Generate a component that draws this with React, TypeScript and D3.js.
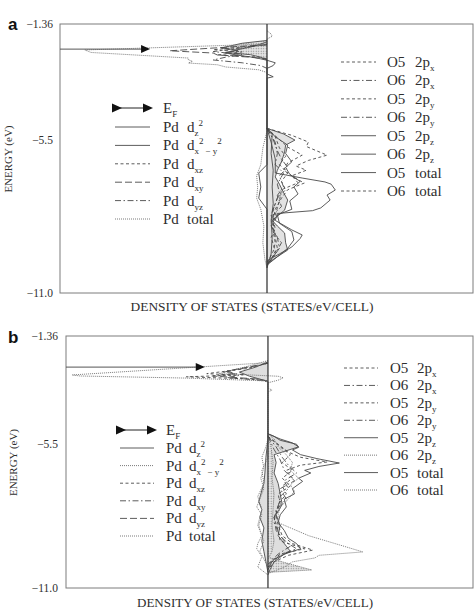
import React, { useEffect, useRef } from 'react';
import * as d3 from 'd3';

type Pt = [number, number]; // [energy (eV), DOS]

const yTicks = [-1.36, -5.5, -11.0];
const yTickLabels = ['\u22121.36', '\u22125.5', '\u221211.0'];
const xTitle = 'DENSITY OF STATES (STATES/eV/CELL)';
const yTitle = 'ENERGY (eV)';

const pdLabels = ['d_{z}^{2}', 'd_{x}^{2}_{\u2009\u2212 y}^{2}', 'd_{xz}', 'd_{xy}', 'd_{yz}', 'total'];
const oAtoms = ['O5', 'O6', 'O5', 'O6', 'O5', 'O6', 'O5', 'O6'];
const oOrbitals = ['2p_{x}', '2p_{x}', '2p_{y}', '2p_{y}', '2p_{z}', '2p_{z}', 'total', 'total'];

// Fermi level and arrow tip (DOS units) per panel
const fermiA = -2.26;
const fermiTipA = -5.65;
const fermiB = -2.55;
const fermiTipB = -3.1;

// ---------- panel a : Pd ----------
const aPdDz2: Pt[] = [[-1.95, 0], [-2.05, -1.2], [-2.15, -1.8], [-2.22, -2.2], [-2.3, -1.4], [-2.38, -2.0], [-2.46, -0.8], [-2.55, -0.3], [-2.65, 0], [-5.1, 0], [-5.3, 0.25], [-6.0, 0.2], [-6.6, 0.3], [-7.2, 0.25], [-7.8, 0.3], [-8.4, 0.2], [-9.0, 0.25], [-9.6, 0.2], [-10.1, 0]];
const aPdDx2y2: Pt[] = [[-2.0, 0], [-2.15, -0.6], [-2.28, -1.4], [-2.4, -2.0], [-2.48, -1.4], [-2.56, -0.6], [-2.66, 0], [-2.75, 0.4], [-2.85, 0.3], [-2.95, 0], [-3.15, 0], [-3.25, 0.3], [-3.3, 0], [-6.4, 0], [-6.7, -0.4], [-7.2, -0.3], [-7.6, -0.4], [-8.0, 0], [-10.1, 0]];
const aPdDxz: Pt[] = [[-2.1, 0], [-2.28, -2.6], [-2.36, -1.2], [-2.47, -2.4], [-2.54, -0.5], [-2.6, 0]];
const aPdDxy: Pt[] = [[-2.1, 0], [-2.32, -4.7], [-2.4, -2.6], [-2.47, -2.4], [-2.55, -0.8], [-2.62, 0]];
const aPdDyz: Pt[] = [[-2.1, 0], [-2.25, -1.6], [-2.35, -2.6], [-2.45, -1.2], [-2.55, -2.0], [-2.65, -2.6], [-2.75, -1.2], [-2.85, -0.3], [-2.95, 0]];
const aPdTotal: Pt[] = [[-1.6, 0], [-1.72, 0.2], [-1.8, 0.25], [-1.9, 0], [-2.08, 0], [-2.29, -8.8], [-2.38, -8.5], [-2.58, -3.8], [-2.64, -3.8], [-2.7, -3.6], [-2.76, -3.8], [-2.82, -2.4], [-2.9, -2.0], [-3.0, -0.4], [-3.1, 0], [-5.2, 0], [-5.8, -0.2], [-6.4, -0.3], [-6.8, -0.5], [-7.2, -0.45], [-7.6, -0.5], [-8.0, -0.3], [-8.6, -0.15], [-9.2, -0.2], [-9.8, -0.1], [-10.1, 0]];

// ---------- panel a : O ----------
const aO5Px: Pt[] = [[-5.1, 0], [-5.5, 0.6], [-5.77, 1.0], [-6.06, 1.7], [-6.34, 1.0], [-6.6, 0.8], [-6.9, 1.4], [-7.06, 1.8], [-7.3, 1.0], [-7.6, 0.7], [-8.0, 0.4], [-8.4, 0.3], [-8.8, 0.3], [-9.2, 0.4], [-9.5, 0.3], [-9.8, 0.1], [-10.0, 0]];
const aO6Px: Pt[] = [[-5.1, 0], [-5.5, 0.3], [-5.9, 0.5], [-6.2, 0.7], [-6.5, 1.0], [-6.8, 0.6], [-7.2, 0.8], [-7.5, 0.5], [-7.9, 0.7], [-8.2, 0.3], [-8.6, 0.2], [-9.0, 0.5], [-9.4, 0.6], [-9.7, 0.3], [-10.0, 0]];
const aO5Py: Pt[] = [[-5.1, 0], [-5.4, 0.4], [-5.8, 0.6], [-6.1, 0.9], [-6.4, 0.6], [-6.7, 1.0], [-7.0, 0.7], [-7.3, 0.9], [-7.6, 0.5], [-8.0, 0.3], [-8.4, 0.3], [-8.7, 0.4], [-9.0, 0.2], [-9.5, 0.4], [-9.8, 0.2], [-10.0, 0]];
const aO6Py: Pt[] = [[-5.1, 0], [-5.6, 0.4], [-6.0, 0.5], [-6.4, 0.4], [-6.7, 0.8], [-7.1, 0.5], [-7.4, 0.6], [-7.8, 0.4], [-8.2, 0.2], [-8.8, 0.3], [-9.2, 0.7], [-9.6, 0.4], [-10.0, 0]];
const aO5Pz: Pt[] = [[-5.1, 0], [-5.4, 0.4], [-5.7, 1.0], [-6.0, 0.9], [-6.3, 1.2], [-6.5, 0.9], [-6.75, 1.1], [-7.0, 1.6], [-7.2, 1.3], [-7.45, 1.5], [-7.7, 1.1], [-8.0, 1.2], [-8.2, 0.5], [-8.5, 0.6], [-8.8, 1.2], [-9.1, 1.3], [-9.4, 1.0], [-9.7, 0.5], [-10.0, 0]];
const aO6Pz: Pt[] = [[-5.1, 0], [-5.3, 0.8], [-5.52, 1.35], [-5.7, 0.9], [-5.95, 0.85], [-6.3, 0.7], [-6.6, 0.5], [-6.84, 0.4], [-7.1, 0.6], [-7.4, 0.8], [-7.67, 1.0], [-8.03, 0.85], [-8.25, 0.5], [-8.4, 0.25], [-8.6, 0.5], [-8.85, 0.85], [-9.2, 0.9], [-9.46, 1.0], [-9.7, 0.5], [-9.95, 0]];
const aO5Total: Pt[] = [[-5.1, 0], [-5.6, 0.2], [-6.2, 0.4], [-6.7, 0.4], [-6.88, 1.7], [-7.02, 2.8], [-7.1, 3.1], [-7.31, 3.3], [-7.49, 2.9], [-7.67, 3.05], [-7.95, 2.6], [-8.05, 2.2], [-8.15, 0.5], [-8.4, 0.4], [-8.74, 1.2], [-8.92, 1.7], [-9.05, 1.6], [-9.35, 1.2], [-9.6, 0.6], [-9.82, 0.05], [-9.9, 0]];
const aO6Total: Pt[] = [[-5.1, 0], [-5.35, 1.2], [-5.59, 2.0], [-5.75, 1.9], [-6.06, 2.9], [-6.25, 2.0], [-6.45, 1.4], [-6.6, 1.9], [-6.8, 1.2], [-7.05, 1.5], [-7.3, 0.7], [-7.7, 0.6], [-8.2, 0.4], [-8.6, 0.3], [-9.0, 0.4], [-9.4, 0.5], [-9.8, 0.2], [-10.0, 0]];

// ---------- panel b : Pd ----------
const bPdDz2: Pt[] = [[-2.35, 0], [-2.55, -0.6], [-2.74, -1.4], [-2.9, -0.9], [-3.05, -0.2], [-3.1, 0], [-5.3, 0], [-6.0, -0.1], [-6.6, -0.15], [-7.0, -0.2], [-7.4, -0.35], [-7.7, -0.45], [-8.0, -0.3], [-8.3, -0.4], [-8.7, -0.2], [-9.2, -0.3], [-9.6, -0.2], [-10.0, -0.1], [-10.4, 0]];
const bPdDx2y2: Pt[] = [[-2.3, 0], [-2.5, -0.9], [-2.7, -1.9], [-2.8, -2.4], [-2.86, -0.6], [-2.9, 0.5], [-2.96, 0.75], [-3.05, 0.5], [-3.15, 0], [-6.0, 0], [-6.5, -0.3], [-7.0, -0.2], [-7.5, -0.5], [-8.0, -0.3], [-8.6, -0.5], [-9.2, -0.2], [-9.6, -0.4], [-10.2, 0]];
const bPdDxz: Pt[] = [[-2.4, 0], [-2.6, -1.0], [-2.8, -3.0], [-2.86, -1.5], [-2.92, -4.0], [-3.0, -1.0], [-3.08, 0]];
const bPdDxy: Pt[] = [[-2.4, 0], [-2.6, -1.2], [-2.74, -2.2], [-2.84, -1.2], [-2.95, -2.0], [-3.05, -0.4], [-3.12, 0]];
const bPdDyz: Pt[] = [[-2.4, 0], [-2.55, -1.0], [-2.7, -2.0], [-2.8, -1.6], [-2.89, -2.7], [-3.0, -0.6], [-3.08, 0]];
const bPdTotal: Pt[] = [[-2.3, 0], [-2.39, -0.2], [-2.85, -9.6], [-2.89, -9.2], [-2.97, -4.0], [-3.08, 0], [-3.35, 0], [-3.43, 0.2], [-3.5, 0], [-5.3, 0], [-5.6, -0.1], [-6.0, -0.3], [-6.4, -0.2], [-6.8, -0.35], [-7.2, -0.2], [-7.6, -0.4], [-7.9, -0.55], [-8.2, -0.3], [-8.6, -0.45], [-9.0, -0.3], [-9.3, -0.5], [-9.5, -0.55], [-9.8, -0.3], [-10.2, -0.5], [-10.5, 0]];

// ---------- panel b : O ----------
const bO5Px: Pt[] = [[-5.2, 0], [-5.5, 0.5], [-5.8, 1.0], [-6.0, 1.6], [-6.18, 2.9], [-6.3, 1.6], [-6.5, 0.9], [-6.8, 1.2], [-7.1, 0.7], [-7.4, 0.9], [-7.8, 0.5], [-8.2, 0.4], [-8.6, 0.5], [-9.0, 0.7], [-9.3, 1.2], [-9.55, 2.2], [-9.75, 1.0], [-10.0, 0.3], [-10.3, 0]];
const bO6Px: Pt[] = [[-5.2, 0], [-5.6, 0.4], [-6.0, 0.7], [-6.3, 1.0], [-6.6, 1.4], [-6.9, 0.8], [-7.2, 1.0], [-7.5, 0.6], [-7.9, 0.5], [-8.3, 0.3], [-8.8, 0.4], [-9.2, 0.8], [-9.5, 1.4], [-9.7, 0.7], [-10.0, 0.2], [-10.3, 0]];
const bO5Py: Pt[] = [[-5.2, 0], [-5.6, 0.6], [-5.9, 1.1], [-6.2, 0.7], [-6.5, 1.2], [-6.8, 0.7], [-7.1, 1.1], [-7.4, 0.5], [-7.8, 0.6], [-8.3, 0.3], [-8.8, 0.5], [-9.2, 0.6], [-9.5, 1.8], [-9.7, 0.6], [-10.1, 0]];
const bO6Py: Pt[] = [[-5.2, 0], [-5.7, 0.3], [-6.1, 0.6], [-6.5, 0.8], [-6.9, 1.3], [-7.2, 0.6], [-7.6, 0.9], [-8.0, 0.4], [-8.5, 0.3], [-9.0, 0.6], [-9.4, 1.1], [-9.7, 0.5], [-10.1, 0]];
const bO5Pz: Pt[] = [[-5.1, 0], [-5.3, 0.6], [-5.45, 1.2], [-5.6, 1.5], [-5.75, 0.9], [-5.9, 0.3], [-6.2, 0.4], [-6.6, 0.3], [-7.0, 0.5], [-7.4, 0.6], [-7.8, 0.7], [-8.2, 0.4], [-8.6, 0.6], [-9.0, 0.5], [-9.4, 0.9], [-9.6, 1.1], [-9.9, 0.3], [-10.2, 0]];
const bO6Pz: Pt[] = [[-5.2, 0], [-5.6, 0.15], [-6.2, 0.25], [-6.8, 0.2], [-7.4, 0.3], [-8.0, 0.25], [-8.6, 0.2], [-9.2, 0.3], [-9.6, 0.2], [-9.83, 0.05], [-10.0, 0.7], [-10.15, 1.4], [-10.31, 2.15], [-10.36, 1.0], [-10.4, 0]];
const bO5Total: Pt[] = [[-5.1, 0], [-5.2, 0.3], [-5.35, 0.6], [-5.5, 1.4], [-5.62, 1.5], [-5.72, 1.2], [-5.9, 1.6], [-6.05, 2.4], [-6.22, 3.5], [-6.35, 2.5], [-6.5, 1.8], [-6.6, 2.1], [-6.8, 1.5], [-6.92, 1.7], [-7.2, 1.2], [-7.4, 1.3], [-7.6, 0.8], [-7.9, 0.9], [-8.2, 0.6], [-8.5, 0.5], [-8.8, 0.8], [-9.1, 1.0], [-9.3, 1.4], [-9.5, 1.6], [-9.7, 0.8], [-10.0, 0.3], [-10.3, 0.1], [-10.5, 0]];
const bO6Total: Pt[] = [[-5.1, 0], [-5.3, 0.3], [-5.6, 0.5], [-5.9, 0.9], [-6.2, 1.2], [-6.5, 1.1], [-6.8, 1.5], [-7.05, 1.1], [-7.3, 1.3], [-7.6, 1.0], [-7.9, 0.6], [-8.2, 0.5], [-8.5, 0.5], [-8.8, 1.4], [-9.0, 2.0], [-9.35, 3.5], [-9.62, 4.65], [-9.75, 2.5], [-9.85, 2.3], [-10.0, 1.2], [-10.2, 0.8], [-10.45, 0]];

const dashes: Record<string, string | null> = {
  solid: null,
  short: '3,2.5',
  long: '7,3',
  dashdot: '6,2.5,1.5,2.5',
  dot: '1,1',
};

const panels = [
  {
    tag: 'a', top: 24, bottom: 293, left: 60, right: 473, xDom: [-10, 10],
    fermi: fermiA, fermiTip: fermiTipA, tickX: 53, yTitleX: 12, xTitleY: 311, xTitleLen: 243,
    pd: [aPdDz2, aPdDx2y2, aPdDxz, aPdDxy, aPdDyz, aPdTotal],
    o: [aO5Px, aO6Px, aO5Py, aO6Py, aO5Pz, aO6Pz, aO5Total, aO6Total],
    pdStyle: ['solid', 'solid', 'short', 'long', 'dashdot', 'dot'],
    oStyle: ['short', 'dashdot', 'short', 'dashdot', 'solid', 'solid', 'solid', 'short'],
    fills: [{ d: aPdDz2, f: 'url(#stip)' }, { d: aO6Pz, f: '#e2e2e2' }],
    legL: { efY: 108, y0: 127, dy: 18.4, x0: 115, x1: 150, ax0: 112, ax1: 153, t1: 163, t2: 187 },
    legR: { y0: 62, dy: 18.43, x0: 341, x1: 376, t1: 387, t2: 415 },
  },
  {
    tag: 'b', top: 336, bottom: 588, left: 66, right: 473, xDom: [-9.9, 10.1],
    fermi: fermiB, fermiTip: fermiTipB, tickX: 58, yTitleX: 17, xTitleY: 607, xTitleLen: 236,
    pd: [bPdDz2, bPdDx2y2, bPdDxz, bPdDxy, bPdDyz, bPdTotal],
    o: [bO5Px, bO6Px, bO5Py, bO6Py, bO5Pz, bO6Pz, bO5Total, bO6Total],
    pdStyle: ['solid', 'dot', 'short', 'dashdot', 'long', 'dot'],
    oStyle: ['short', 'dashdot', 'short', 'dashdot', 'solid', 'dot', 'solid', 'dot'],
    fills: [{ d: bPdDz2, f: '#dedede' }, { d: bO5Pz, f: '#dedede' }, { d: bO6Pz, f: 'url(#stip)' }],
    legL: { efY: 430, y0: 448, dy: 17.6, x0: 120, x1: 154, ax0: 116, ax1: 157, t1: 166, t2: 189 },
    legR: { y0: 368, dy: 17.43, x0: 344, x1: 378, t1: 390, t2: 417 },
  },
];

const SERIF = '"Liberation Serif", "Times New Roman", serif';
const INK = '#2e2e2e';

function rich(sel: any, str: string, fs: number) {
  const re = /([_^])\{([^}]*)\}|([^_^]+)/g;
  let cur = 0;
  let m: RegExpExecArray | null;
  while ((m = re.exec(str))) {
    if (m[3]) {
      sel.append('tspan').attr('dy', -cur).attr('font-size', fs).text(m[3]);
      cur = 0;
    } else {
      const off = m[1] === '_' ? 4 : -6;
      sel.append('tspan').attr('dy', off - cur).attr('font-size', fs * 0.6).text(m[2]);
      cur = off;
    }
  }
}

function styleLine(sel: any, style: string) {
  sel.attr('fill', 'none')
    .attr('stroke', style === 'dot' ? '#7a7a7a' : '#4a4a4a')
    .attr('stroke-width', style === 'dot' ? 1 : 0.9);
  if (dashes[style]) sel.attr('stroke-dasharray', dashes[style]);
}

const App = () => {
  const ref = useRef<SVGSVGElement>(null);

  useEffect(() => {
    const svg = d3.select(ref.current);
    svg.selectAll('*').remove();

    const defs = svg.append('defs');
    const pat = defs.append('pattern').attr('id', 'stip')
      .attr('width', 2.5).attr('height', 2.5).attr('patternUnits', 'userSpaceOnUse');
    pat.append('rect').attr('width', 2.5).attr('height', 2.5).attr('fill', '#e4e4e4');
    pat.append('circle').attr('cx', 1.2).attr('cy', 1.2).attr('r', 0.6).attr('fill', '#808080');

    panels.forEach(p => {
      const g = svg.append('g');
      const y = d3.scaleLinear().domain([-1.36, -11]).range([p.top, p.bottom]);
      const x = d3.scaleLinear().domain(p.xDom).range([p.left, 474]);

      const line = d3.line<Pt>().x(d => x(d[1])).y(d => y(d[0]));
      const area = d3.area<Pt>().y(d => y(d[0])).x0(x(0)).x1(d => x(d[1]));

      // fills
      p.fills.forEach(f => {
        g.append('path').attr('d', area(f.d)).attr('fill', f.f).attr('stroke', 'none');
      });

      // curves
      p.pd.forEach((d, i) => styleLine(g.append('path').attr('d', line(d)), p.pdStyle[i]));
      p.o.forEach((d, i) => styleLine(g.append('path').attr('d', line(d)), p.oStyle[i]));

      // frame and zero line
      g.append('rect')
        .attr('x', p.left).attr('y', p.top)
        .attr('width', p.right - p.left).attr('height', p.bottom - p.top)
        .attr('fill', 'none').attr('stroke', '#7c7c7c').attr('stroke-width', 1);
      g.append('line')
        .attr('x1', x(0)).attr('x2', x(0)).attr('y1', p.top).attr('y2', p.bottom)
        .attr('stroke', '#3a3a3a').attr('stroke-width', 1.3);

      // Fermi level arrow
      const fy = y(p.fermi);
      const tip = x(p.fermiTip);
      g.append('line').attr('x1', p.left).attr('x2', tip - 4).attr('y1', fy).attr('y2', fy)
        .attr('stroke', '#555').attr('stroke-width', 1);
      g.append('path').attr('d', `M${tip},${fy}L${tip - 9},${fy - 4}L${tip - 9},${fy + 4}Z`).attr('fill', '#111');

      // y ticks
      yTicks.forEach((t, i) => {
        g.append('text').attr('x', p.tickX).attr('y', y(t) + 4)
          .attr('text-anchor', 'end').attr('font-family', SERIF).attr('font-size', 11.5)
          .attr('fill', INK).text(yTickLabels[i]);
      });

      // panel tag
      g.append('text').attr('x', 8).attr('y', p.top + (p.tag === 'a' ? 6 : 7))
        .attr('font-family', '"Liberation Sans", Arial, sans-serif').attr('font-weight', 'bold')
        .attr('font-size', 17).attr('fill', '#111').text(p.tag);

      // axis titles
      const ymid = y(-6.2);
      g.append('text')
        .attr('transform', `translate(${p.yTitleX},${ymid}) rotate(-90)`)
        .attr('text-anchor', 'middle').attr('font-family', SERIF).attr('font-size', 11)
        .attr('fill', INK).text(yTitle);
      g.append('text').attr('x', (p.left + 474) / 2 - 15).attr('y', p.xTitleY)
        .attr('text-anchor', 'middle').attr('font-family', SERIF).attr('font-size', 11.5)
        .attr('textLength', p.xTitleLen).attr('lengthAdjust', 'spacingAndGlyphs')
        .attr('fill', INK).text(xTitle);

      // left legend (Pd)
      const L = p.legL;
      g.append('line').attr('x1', L.ax0 + 8).attr('x2', L.ax1 - 8).attr('y1', L.efY).attr('y2', L.efY)
        .attr('stroke', '#222').attr('stroke-width', 1);
      [L.ax0 + 10, L.ax1].forEach(tx => {
        g.append('path').attr('d', `M${tx},${L.efY}L${tx - 10},${L.efY - 4.5}L${tx - 10},${L.efY + 4.5}Z`).attr('fill', '#111');
      });
      const ef = g.append('text').attr('x', L.t1).attr('y', L.efY + 5)
        .attr('font-family', SERIF).attr('fill', INK);
      rich(ef, 'E_{F}', 15);

      pdLabels.forEach((lab, i) => {
        const ry = L.y0 + i * L.dy;
        styleLine(g.append('line').attr('x1', L.x0).attr('x2', L.x1).attr('y1', ry).attr('y2', ry), p.pdStyle[i]);
        g.append('text').attr('x', L.t1).attr('y', ry + 5).attr('font-family', SERIF)
          .attr('font-size', 15).attr('fill', INK).text('Pd');
        const t = g.append('text').attr('x', L.t2).attr('y', ry + 5).attr('font-family', SERIF).attr('fill', INK);
        rich(t, lab, 15);
      });

      // right legend (O)
      const R = p.legR;
      oAtoms.forEach((atom, i) => {
        const ry = R.y0 + i * R.dy;
        styleLine(g.append('line').attr('x1', R.x0).attr('x2', R.x1).attr('y1', ry).attr('y2', ry), p.oStyle[i]);
        g.append('text').attr('x', R.t1).attr('y', ry + 5).attr('font-family', SERIF)
          .attr('font-size', 15).attr('fill', INK).text(atom);
        const t = g.append('text').attr('x', R.t2).attr('y', ry + 5).attr('font-family', SERIF).attr('fill', INK);
        rich(t, oOrbitals[i], 15);
      });
    });
  }, []);

  return (
    <svg ref={ref} width={475} height={613}
      style={{ position: 'absolute', left: 0, top: 0, background: '#fff' }} />
  );
};

export default App;
